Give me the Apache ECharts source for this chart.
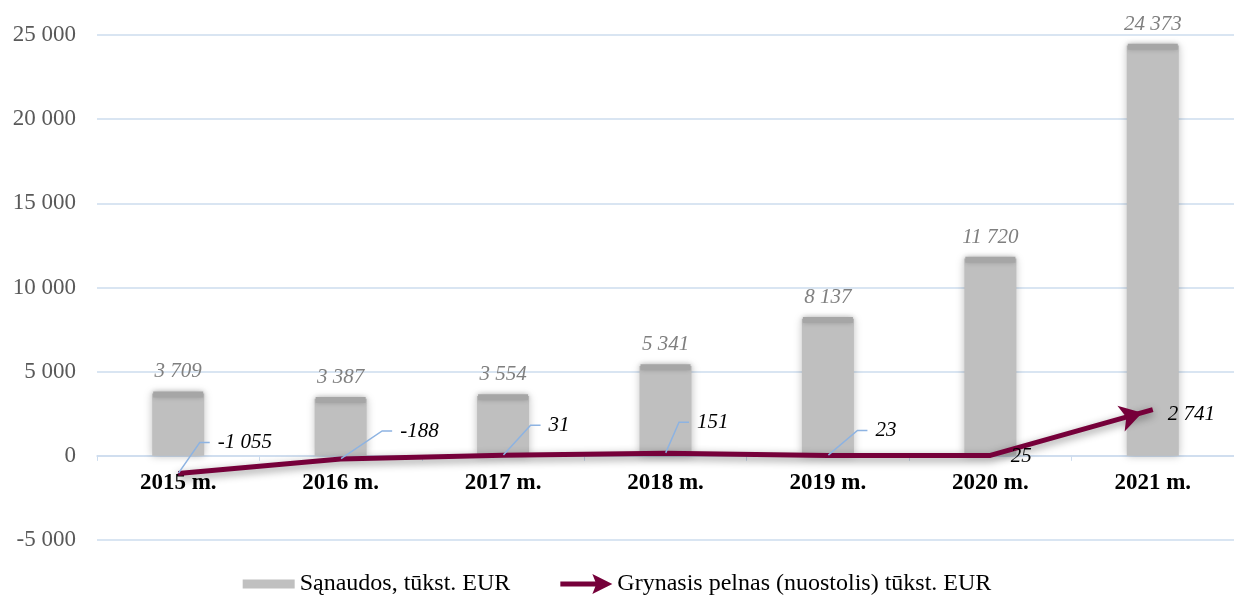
<!DOCTYPE html>
<html>
<head>
<meta charset="utf-8">
<script src="https://cdn.jsdelivr.net/npm/echarts@6/dist/echarts.min.js"></script>
<style>
  html, body { margin: 0; padding: 0; background: #fff; }
  #chart { width: 1234px; height: 597px; }
</style>
</head>
<body>
<div id="chart"></div>
<script>
  // duomenys
  var years = ['2015 m.', '2016 m.', '2017 m.', '2018 m.', '2019 m.', '2020 m.', '2021 m.'];
  var expenses = [3709, 3387, 3554, 5341, 8137, 11720, 24373];
  var profit = [-1055, -188, 31, 151, 23, 25, 2741];
  var yTicks = { min: -5000, max: 25000, step: 5000 };

  // pelno etikečių poslinkiai (px) ir ar rodyti išnašos liniją
  var labelShift = [[27, -31], [47, -28], [33, -30], [19, -31], [35, -25], [8, 1], [10, -1]];
  var withLeader = [true, true, true, true, true, false, false];

  var serif = '"Liberation Serif", "Times New Roman", serif';
  var maroon = '#76003a';
  var gridBlue = '#cddcee';
  var gridTop = 35, gridBottom = 57, H = 597;
  var plotH = H - gridTop - gridBottom;
  // x ašis ties nuliu
  var zeroOffset = -plotH * (0 - yTicks.min) / (yTicks.max - yTicks.min);

  function fmt(v) {
    return String(v).replace(/\B(?=(\d{3})+(?!\d))/g, ' ');
  }

  var chart = echarts.init(document.getElementById('chart'));

  var lineData = profit.map(function (v, i) {
    return { value: v, labelLine: { show: withLeader[i] } };
  });

  var option = {
    animation: false,
    backgroundColor: '#fff',
    grid: { left: 97, right: -10, top: gridTop, bottom: gridBottom },
    legend: {
      bottom: -4,
      left: 'center',
      itemGap: 50,
      itemWidth: 52,
      itemHeight: 20,
      textStyle: { fontFamily: serif, fontSize: 24, color: '#000' },
      data: [
        { name: 'Sąnaudos, tūkst. EUR',
          icon: 'path://M0,0 L52,0 L52,9 L0,9 Z',
          itemStyle: { color: '#c0c0c0' } },
        { name: 'Grynasis pelnas (nuostolis) tūkst. EUR',
          icon: 'path://M0,7.5 L35,7.5 L32,0 L52,10 L32,20 L35,12.5 L0,12.5 Z',
          itemStyle: { color: maroon } }
      ]
    },
    xAxis: {
      type: 'category',
      data: years,
      offset: zeroOffset,
      axisLine: { onZero: false, lineStyle: { color: gridBlue, width: 1.5 } },
      axisTick: { show: true, length: 5, lineStyle: { color: gridBlue } },
      axisLabel: {
        margin: 16,
        fontFamily: serif, fontSize: 23, fontWeight: 'bold', color: '#000'
      },
      splitLine: { show: false }
    },
    yAxis: {
      type: 'value',
      min: yTicks.min, max: yTicks.max, interval: yTicks.step,
      axisLine: { show: false },
      axisTick: { show: false },
      axisLabel: {
        margin: 21,
        fontFamily: serif, fontSize: 23, color: '#595959',
        formatter: fmt
      },
      splitLine: { lineStyle: { color: gridBlue, width: 1.5 } }
    },
    series: [
      {
        name: 'Sąnaudos, tūkst. EUR',
        type: 'bar',
        barWidth: 52,
        z: 2,
        data: expenses,
        itemStyle: {
          color: '#bfbfbf',
          shadowBlur: 8,
          shadowColor: 'rgba(0,0,0,0.25)'
        },
        label: {
          show: true,
          position: 'top',
          distance: 11,
          fontFamily: serif, fontSize: 21, fontStyle: 'italic', color: '#7f7f7f',
          formatter: function (p) { return fmt(p.value); }
        }
      },
      {
        // tamsesnis stulpelio viršus
        name: 'cap',
        type: 'pictorialBar',
        symbol: 'rect',
        symbolSize: [50, 6],
        symbolPosition: 'end',
        symbolOffset: [0, '-30%'],
        z: 3,
        silent: true,
        data: expenses,
        itemStyle: {
          color: '#a6a6a6',
          shadowBlur: 5,
          shadowColor: 'rgba(0,0,0,0.2)'
        }
      },
      {
        name: 'Grynasis pelnas (nuostolis) tūkst. EUR',
        type: 'line',
        z: 5,
        data: lineData,
        symbol: 'circle',
        symbolSize: 1,
        showSymbol: true,
        lineStyle: {
          color: maroon, width: 5,
          shadowBlur: 8, shadowColor: 'rgba(0,0,0,0.45)', shadowOffsetY: 3
        },
        itemStyle: { color: maroon },
        label: {
          show: true,
          position: 'right',
          distance: 4,
          padding: [0, 0, 0, 8],
          backgroundColor: 'rgba(255,255,255,0)',
          fontFamily: serif, fontSize: 21, fontStyle: 'italic', color: '#000',
          formatter: function (p) { return fmt(p.value); }
        },
        labelLine: {
          show: true,
          length2: 10,
          lineStyle: { color: '#8db3e2', width: 1.5 }
        },
        labelLayout: function (p) {
          var s = labelShift[p.dataIndex];
          return { dx: s[0], dy: s[1] };
        }
      }
    ]
  };

  chart.setOption(option);

  // rodyklė linijos gale: smaigalys ties paskutiniu tašku
  var n = profit.length;
  var a = chart.convertToPixel({ seriesIndex: 2 }, [n - 2, profit[n - 2]]);
  var b = chart.convertToPixel({ seriesIndex: 2 }, [n - 1, profit[n - 1]]);
  var rad = Math.atan2(a[1] - b[1], b[0] - a[0]);
  var arrowLen = 22;
  lineData[n - 1] = {
    value: profit[n - 1],
    symbol: 'arrow',
    symbolSize: [20, arrowLen],
    symbolRotate: rad * 180 / Math.PI - 90,
    symbolOffset: [-Math.cos(rad) * arrowLen / 2, Math.sin(rad) * arrowLen / 2],
    labelLine: { show: false }
  };
  chart.setOption({ series: [{}, {}, { data: lineData }] });
</script>
</body>
</html>
